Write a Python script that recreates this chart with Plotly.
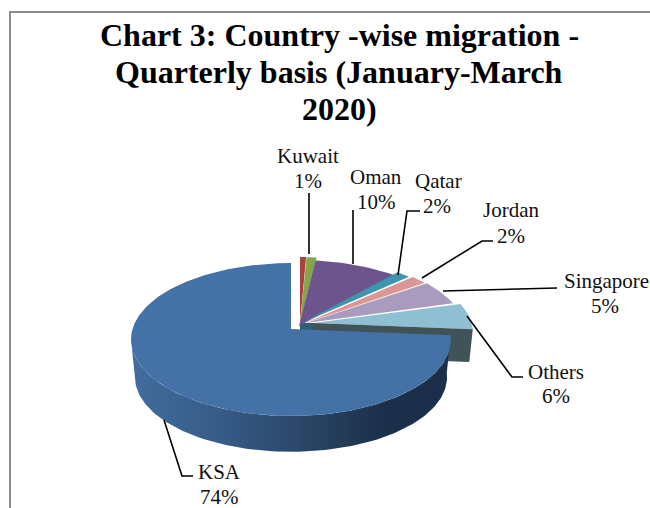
import numpy as np
import plotly.graph_objects as go

# ---- data ----
categories = ["Other A", "Kuwait", "Oman", "Qatar", "Jordan", "Other B", "Singapore", "Other C", "Others", "KSA"]
shares = [0.7, 1.2, 9.6, 1.7, 2.0, 0.2, 5.2, 0.2, 5.5, 73.7]
label_names = ["Kuwait", "Oman", "Qatar", "Jordan", "Singapore", "Others", "KSA"]
label_values = ["1%", "10%", "2%", "2%", "5%", "6%", "74%"]
title_lines = ["Chart 3: Country -wise migration -", "Quarterly basis (January-March", "2020)"]

# ---- styling / layout ----
colors = ["#A8423F", "#86A44A", "#6E548D", "#3D96AE", "#D99694", "#7F8F4F", "#A99BBD", "#5B4A75", "#8FBFD2", "#4471A6"]
offsets = [(0, 0), (0, 0), (-1, 3), (2, 0), (5, 0), (6, 0), (6, 0), (10, 0), (13, 0), (-9, 6)]
name_pos = [(308, 156), (376, 177), (438, 181), (511, 210), (606, 281), (556, 372), (219, 472)]
value_pos = [(308, 181), (376, 202), (437, 206), (511, 236), (605, 306), (556, 396), (219, 497)]
title_y = [35, 72, 109]
leaders = [
    [(309, 193), (309, 254)],
    [(353, 210), (353, 264)],
    [(420, 211), (407, 211), (398, 275)],
    [(493, 241), (482, 241), (422, 278)],
    [(557, 288), (443, 291)],
    [(523, 377), (512, 377), (467, 316)],
    [(193, 476), (182, 476), (164, 420)],
]
CX, CY, R, A, P = 300, 323, 158.5, 75, 0.1375
DEPTH = 38
CUT_DEPTH = 33
FONT = "Liberation Serif"
LABEL_SIZE = 21


def proj(theta, ox, oy, depth=0.0):
    """Perspective projection of a pie-rim angle (degrees clockwise from top)."""
    t = np.radians(theta)
    u, v = np.sin(t), np.cos(t)
    w = 1 + P * v
    s = 1 - 0.025 * (depth / DEPTH) if depth else 1
    return ox + s * R * u / w, oy - s * A * v / w + depth


edges = np.concatenate([[0], np.cumsum(shares)]) / sum(shares) * 360
fig = go.Figure()


def poly(xs, ys, color=None, **kw):
    fig.add_trace(go.Scatter(x=list(xs), y=list(ys), mode="lines", fill="toself", line=dict(width=0),
                             fillcolor=color, hoverinfo="skip", showlegend=False, **kw))


# small dark wedge visible under the slices' tips
ox8, oy8 = CX + offsets[8][0], CY + offsets[8][1]
poly([CX, ox8, ox8, CX], [CY, oy8, oy8 + CUT_DEPTH / 3, CY + CUT_DEPTH / 3], "#2E5F70")

# slices behind the main one
for i in range(len(shares) - 1):
    ox, oy = CX + offsets[i][0], CY + offsets[i][1]
    th = np.linspace(edges[i], edges[i + 1], 24)
    x, y = proj(th, ox, oy)
    poly(np.r_[ox, x], np.r_[oy, y], colors[i])

# cut face of the "Others" slice
ex, ey = proj(edges[9], ox8, oy8)
bx, by = proj(edges[9], ox8, oy8, CUT_DEPTH)
poly([ox8, ex, bx, ox8], [oy8, ey, by, oy8 + CUT_DEPTH], "#3F5359")

# main slice: wall then top
kx, ky = CX + offsets[9][0], CY + offsets[9][1]
th_wall = np.linspace(edges[9], 262, 120)
tx, ty = proj(th_wall, kx, ky)
wx, wy = proj(th_wall, kx, ky, DEPTH)
fig.add_trace(go.Scatter(
    x=np.r_[tx, wx[::-1]], y=np.r_[ty, wy[::-1]], mode="lines", fill="toself", line=dict(width=0),
    fillgradient=dict(type="horizontal", colorscale=[[0, "#426D9E"], [0.3, "#365A85"], [0.6, "#27405F"],
                                                     [0.8, "#1B2F4B"], [1, "#1B2F4B"]]),
    hoverinfo="skip", showlegend=False))
th = np.linspace(edges[9], edges[10], 200)
x, y = proj(th, kx, ky)
poly(np.r_[kx, x], np.r_[ky, y], colors[9])

# leader lines
for pts in leaders:
    fig.add_trace(go.Scatter(x=[p[0] for p in pts], y=[p[1] for p in pts], mode="lines",
                             line=dict(color="black", width=1.6), hoverinfo="skip", showlegend=False))

annotations = []
for texts, positions in ((label_names, name_pos), (label_values, value_pos)):
    for t, p in zip(texts, positions):
        annotations.append(dict(x=p[0], y=p[1], text=t, showarrow=False, xanchor="center", yanchor="middle",
                                font=dict(family=FONT, size=LABEL_SIZE, color="#111111")))
for t, yy in zip(title_lines, title_y):
    annotations.append(dict(x=339, y=yy, text=t, showarrow=False, xanchor="center", yanchor="middle",
                            font=dict(family=FONT, size=32, color="black", weight="bold")))

fig.update_layout(
    width=650, height=508, margin=dict(l=0, r=0, t=0, b=0),
    paper_bgcolor="white", plot_bgcolor="white",
    xaxis=dict(range=[0, 650], visible=False, fixedrange=True),
    yaxis=dict(range=[508, 0], visible=False, fixedrange=True),
    annotations=annotations,
    shapes=[dict(type="rect", xref="x", yref="y", x0=10, y0=12, x1=660, y1=520,
                 line=dict(color="#8C8C8C", width=2), layer="below")],
)
fig.write_html("out.html", config=dict(displayModeBar=False),
               post_script="document.body.style.margin='0';document.body.style.overflow='hidden';")
